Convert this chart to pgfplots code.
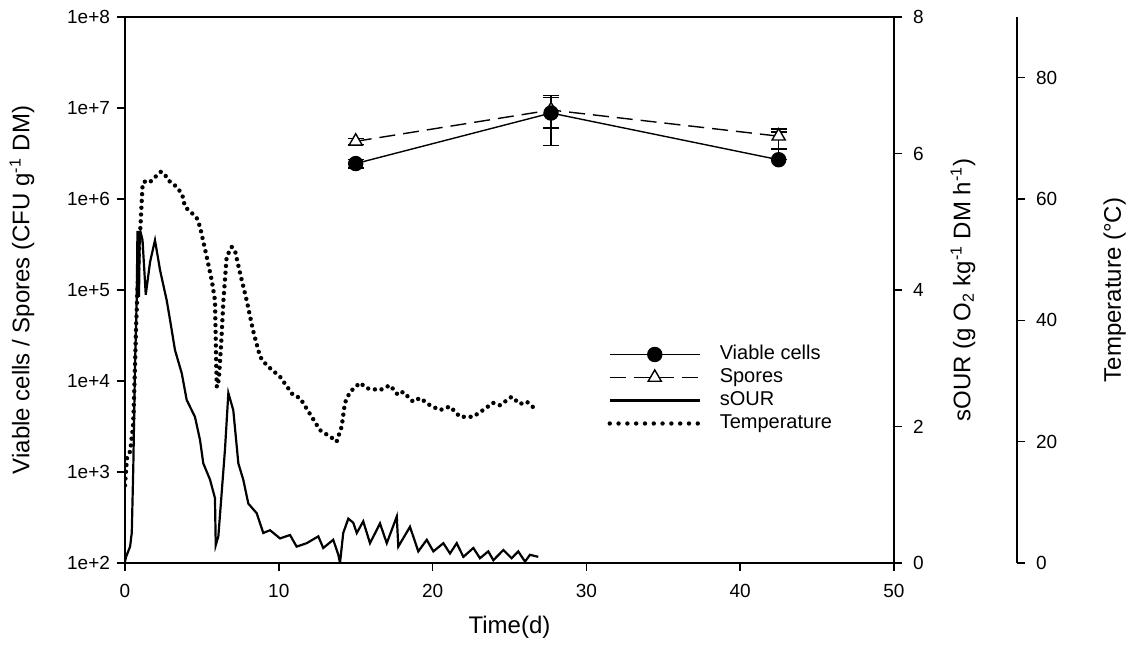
\documentclass[border=0pt]{standalone}
\usepackage{fontspec}
\setmainfont{Liberation Sans}
\usepackage{pgfplots}
\pgfplotsset{compat=1.18}

\pgfplotstableread{
d s
0.00 0.02
0.07 0.09
0.33 0.24
0.44 0.44
0.49 0.92
0.54 1.41
0.65 2.88
0.76 3.85
0.81 4.85
0.86 4.85
0.91 3.90
0.96 4.80
1.01 4.85
1.14 4.73
1.35 3.93
1.63 4.41
1.95 4.73
2.28 4.29
2.71 3.85
2.93 3.56
3.25 3.12
3.69 2.78
4.01 2.39
4.55 2.14
4.88 1.80
5.09 1.46
5.53 1.22
5.85 0.95
5.90 0.26
6.07 0.39
6.50 1.66
6.72 2.49
7.04 2.24
7.37 1.46
7.69 1.22
8.02 0.87
8.56 0.73
8.99 0.44
9.43 0.48
10.08 0.36
10.73 0.41
11.16 0.24
11.81 0.29
12.57 0.39
12.89 0.22
13.54 0.34
13.87 0.12
13.98 0.00
14.19 0.44
14.52 0.65
14.84 0.59
15.07 0.44
15.49 0.61
15.93 0.29
16.58 0.58
17.02 0.29
17.67 0.68
17.77 0.24
18.53 0.53
19.07 0.17
19.62 0.34
20.05 0.17
20.70 0.29
21.13 0.14
21.57 0.29
22.00 0.09
22.65 0.22
23.08 0.07
23.62 0.17
23.95 0.04
24.60 0.19
25.14 0.07
25.57 0.17
26.01 0.02
26.33 0.12
26.87 0.09
}\sour

\pgfplotstableread{
d t
0.00 12.8
0.07 15.3
0.13 17.3
0.37 18.6
0.39 19.8
0.46 21.1
0.52 22.6
0.55 24.1
0.65 32.4
0.72 38.9
0.81 45.0
0.91 51.6
1.01 55.7
1.09 59.8
1.15 62.6
1.37 63.0
1.63 62.8
1.95 63.6
2.34 64.5
2.60 64.0
2.80 63.1
3.12 62.5
3.45 61.8
3.75 60.4
3.90 58.7
4.34 57.7
4.66 56.9
4.88 55.4
5.31 50.5
5.64 46.6
5.85 43.3
5.93 33.0
5.97 29.0
6.10 30.2
6.25 36.0
6.40 43.3
6.61 50.5
6.94 52.1
7.15 51.5
7.48 47.8
7.91 43.3
8.32 38.4
8.78 34.0
9.21 32.6
10.08 30.7
10.92 27.7
11.38 27.2
12.68 21.9
13.65 20.3
13.76 20.0
14.09 22.5
14.30 26.4
14.63 28.2
15.28 29.7
15.72 28.8
16.58 28.5
17.23 29.3
17.75 27.7
18.08 28.2
18.73 26.6
19.18 27.2
19.83 26.0
20.48 25.2
21.13 25.8
21.78 24.1
22.63 24.1
23.28 25.2
23.93 26.4
24.38 26.0
25.14 27.4
25.68 26.2
26.12 26.6
26.53 25.7
26.79 26.2
}\temp

\pgfplotsset{
  every axis/.append style={
    scale only axis, width=384.5pt, height=273pt,
    xmin=0, xmax=50,
    tick align=outside, major tick length=4pt,
    axis line style={line width=0.75pt}, tick style={line width=0.75pt, black},
    tick label style={font=\fontsize{9.5}{11}\selectfont},
    label style={font=\fontsize{12}{14}\selectfont},
    /pgf/number format/assume math mode=true,
  },
  legimg/.style={legend image code/.code={
    \path[draw=none, fill=none] (0pt,0pt) -- (55pt,0pt);
    \draw[mark repeat=2,mark phase=2,##1] plot coordinates {(0pt,0pt) (22.5pt,0pt) (45pt,0pt)};}},
}
\tikzset{
  cellstyle/.style={black, line width=0.7pt, mark=*, mark size=3.5pt, mark options={solid, fill=black}},
  sporestyle/.style={black, line width=0.7pt, dash pattern=on 8pt off 4pt, mark=triangle*, mark size=3.8pt, mark options={solid, fill=white}},
  sourstyle/.style={black, line width=1.1pt},
  tempstyle/.style={black, line width=2.2pt, line cap=round, dash pattern=on 0pt off 3.4pt},
  templeg/.style={black, line width=2.2pt, line cap=round, dash pattern=on 0pt off 4.4pt},
}

\begin{document}
\begin{tikzpicture}
\path[use as bounding box] (-62.5pt,-49.5pt) rectangle (505.5pt,281.5pt);

% left log axis: cells and spores
\begin{axis}[
  at={(0pt,0pt)}, anchor=south west,
  ymode=log, ymin=1e2, ymax=1e8,
  xtick={0,10,...,50}, xtick pos=bottom,
  ytick={1e2,1e3,1e4,1e5,1e6,1e7,1e8},
  yticklabels={1e+2,1e+3,1e+4,1e+5,1e+6,1e+7,1e+8},
  ytick pos=left, yminorticks=false,
  xlabel={Time(d)},
  xlabel style={at={(rel axis cs:0.5,0)}, anchor=center, yshift=-32pt},
  ylabel={Viable cells / Spores (CFU g\textsuperscript{-1} DM)},
  ylabel style={at={(rel axis cs:-0.134,0.5)}, anchor=center},
  xticklabel style={yshift=-3pt},
  error bars/error bar style={solid, line width=0.7pt},
  error bars/error mark options={solid, line width=0.7pt, mark size=4pt, rotate=90},
]
\addplot[sporestyle, error bars/.cd, y dir=both, y explicit] coordinates {
  (15,4.3e6) +- (0,3e5)
  (27.7,9.5e6) +- (0,3.5e6)
  (42.5,4.9e6) += (0,0.95e6) -= (0,1.35e6)
};
\addplot[cellstyle, error bars/.cd, y dir=both, y explicit] coordinates {
  (15,2.45e6) +- (0,2.5e5)
  (27.7,8.8e6) +- (0,4.9e6)
  (42.5,2.7e6) += (0,2.75e6) -= (0,0)
};
\end{axis}

% right axis: sOUR
\begin{axis}[
  at={(0pt,0pt)}, anchor=south west,
  axis x line=none, axis y line*=right,
  ymin=0, ymax=8, ytick={0,2,...,8},
  yticklabel style={xshift=2pt},
  ylabel={sOUR (g O\textsubscript{2} kg\textsuperscript{-1} DM h\textsuperscript{-1})},
  ylabel style={at={(rel axis cs:1.0897,0.5)}, anchor=center, rotate=0},
]
\addplot[sourstyle] table[x=d, y=s] {\sour};
\end{axis}

% temperature curve and legend
\begin{axis}[
  at={(0pt,0pt)}, anchor=south west,
  hide axis, ymin=0, ymax=90,
  legimg,
  legend style={draw=none, fill=none, at={(rel axis cs:0.627,0.40)}, anchor=north west,
    font=\fontsize{10}{12}\selectfont, row sep=2pt, inner sep=0pt,
    nodes={inner sep=0pt, text height=7.5pt, text depth=2pt}},
  legend cell align=left,
]
\addlegendimage{cellstyle}
\addlegendentry{Viable cells}
\addlegendimage{sporestyle}
\addlegendentry{Spores}
\addlegendimage{sourstyle}
\addlegendentry{sOUR}
\addlegendimage{templeg}
\addlegendentry{Temperature}
\addplot[tempstyle, forget plot] table[x=d, y=t] {\temp};
\end{axis}

% offset temperature axis
\begin{axis}[
  at={(61.5pt,0pt)}, anchor=south west,
  axis x line=none, axis y line*=right,
  ymin=0, ymax=90, ytick={0,20,...,80},
  ylabel={Temperature (°C)},
  ylabel style={at={(rel axis cs:1.127,0.5)}, anchor=center},
  yticklabel style={xshift=2pt},
]
\end{axis}
\end{tikzpicture}
\end{document}
